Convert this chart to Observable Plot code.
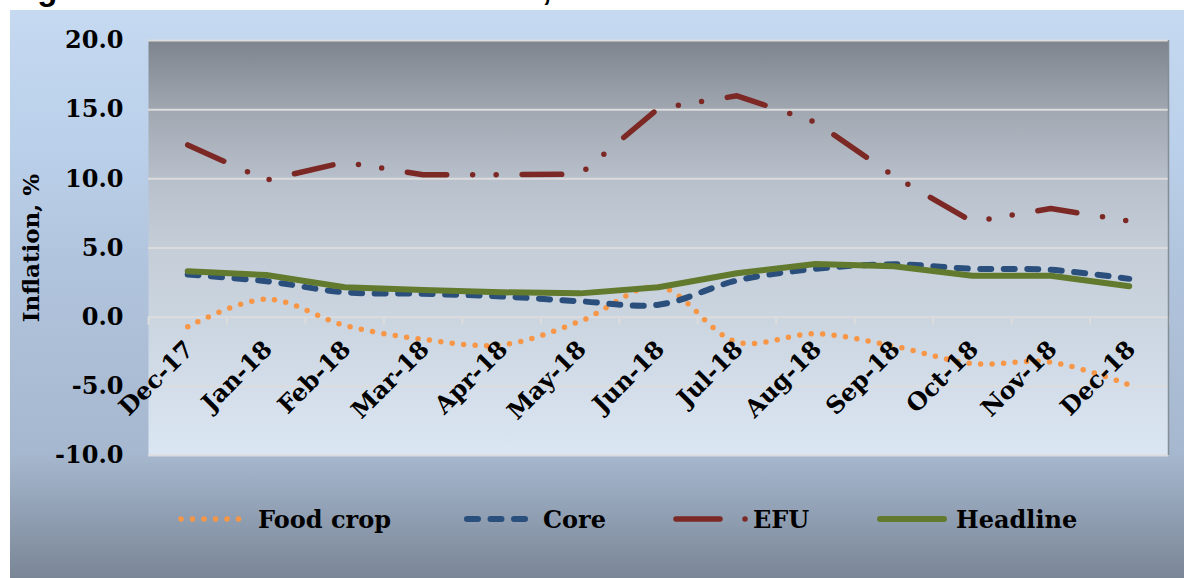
<!DOCTYPE html>
<html>
<head>
<meta charset="utf-8">
<script src="https://cdn.jsdelivr.net/npm/d3@7"></script>
<script src="https://cdn.jsdelivr.net/npm/@observablehq/plot@0.6"></script>
<style>
  html, body { margin: 0; padding: 0; background: #ffffff; width: 1184px; height: 578px; overflow: hidden; position: relative; }
  #title { position: absolute; left: 0; top: 0; display: block; }
  #chart {
    position: absolute; left: 10px; top: 10px; width: 1174px; height: 568px;
    background: linear-gradient(to bottom, #c5d9f1 0%, #bacfe9 25%, #b1c4dd 45%, #a6b8cf 78%, #7a8696 100%);
  }
  .item { position: absolute; top: 484px; height: 50px; display: flex; align-items: center;
    font-family: "DejaVu Serif", serif; font-weight: bold; font-size: 24px; color: #000; white-space: nowrap; }
  .item svg { display: block; }
  .item span { position: absolute; }
</style>
</head>
<body>
<svg id="title" width="1184" height="10"><text x="8" y="0" font-family="Liberation Sans, Arial, sans-serif" font-weight="bold" font-size="33">Figure 2.1: Annual inflation trends, Dec 2017 – Dec 2018</text></svg>
<div id="chart"></div>
<script>
// ---- Data ----
const months = ["Dec-17","Jan-18","Feb-18","Mar-18","Apr-18","May-18","Jun-18","Jul-18","Aug-18","Sep-18","Oct-18","Nov-18","Dec-18"];
const foodCrop = [-0.7, 1.3, -0.6, -1.6, -2.0, -0.3, 2.2, -1.8, -1.2, -2.1, -3.35, -3.25, -4.9];
const core     = [3.08, 2.6, 1.8, 1.69, 1.5, 1.15, 0.9, 2.65, 3.49, 3.82, 3.5, 3.42, 2.77];
const efu      = [12.45, 9.9, 11.2, 10.3, 10.3, 10.33, 15.1, 16.0, 14.1, 10.2, 6.9, 7.85, 6.95];
const headline = [3.32, 3.05, 2.16, 1.97, 1.8, 1.72, 2.16, 3.17, 3.85, 3.68, 3.0, 3.0, 2.24];
const yTicks = [-10, -5, 0, 5, 10, 15, 20];
const seriesNames = ["Food crop", "Core", "EFU", "Headline"];

const colors = {food: "#f79646", core: "#2b4f7c", efu: "#7c2824", head: "#617a2e"};
const styles = {
  food: {stroke: colors.food, strokeWidth: 5.5, strokeDasharray: "0 11.5", strokeLinecap: "round"},
  core: {stroke: colors.core, strokeWidth: 6, strokeDasharray: "11 12.5", strokeLinecap: "round"},
  efu:  {stroke: colors.efu,  strokeWidth: 5.5, strokeDasharray: "39.5 26 0 23.5 0 26", strokeLinecap: "round"},
  head: {stroke: colors.head, strokeWidth: 6, strokeLinecap: "round", strokeLinejoin: "round"}
};

const boundaries = d3.range(-0.5, months.length, 1);
const idx = (d, i) => i;

const plot = Plot.plot({
  width: 1174,
  height: 470,
  marginLeft: 138,
  marginRight: 16,
  marginTop: 30,
  marginBottom: 25,
  style: {background: "transparent", fontFamily: "DejaVu Serif, serif", fontWeight: "bold", color: "#000", overflow: "visible"},
  x: {type: "linear", domain: [-0.5, months.length - 0.5], axis: null},
  y: {domain: [-10, 20]},
  marks: [
    Plot.frame({fill: "url(#plotBg)", stroke: null}),
    Plot.ruleY(yTicks, {stroke: "#dcdcdc", strokeWidth: 2}),
    Plot.ruleX(boundaries, {y1: 0, y2: -0.58, stroke: "#dcdcdc", strokeWidth: 2}),
    Plot.ruleX([months.length - 0.5], {stroke: "#858d97", strokeWidth: 1.5}),
    Plot.line(foodCrop, {x: idx, y: d => d, curve: "catmull-rom", ...styles.food}),
    Plot.line(core, {x: idx, y: d => d, curve: "catmull-rom", ...styles.core}),
    Plot.line(efu, {x: idx, y: d => d, ...styles.efu}),
    Plot.line(headline, {x: idx, y: d => d, ...styles.head}),
    Plot.text(months, {x: idx, y: () => 0, text: d => d, rotate: -45, textAnchor: "end", dy: 28, dx: 2, fontSize: 24, fill: "#000"}),
    Plot.axisY({ticks: yTicks, tickSize: 0, tickPadding: 25, tickFormat: d => d.toFixed(1), fontSize: 24, label: null}),
    Plot.text(["Inflation, %"], {frameAnchor: "left", textAnchor: "middle", text: d => d, rotate: -90, dx: -117, fontSize: 23, fill: "#000"})
  ]
});

plot.insertAdjacentHTML("afterbegin", `<defs><linearGradient id="plotBg" x1="0" y1="0" x2="0" y2="1">
  <stop offset="0" stop-color="#7d848d"/>
  <stop offset="0.17" stop-color="#a1a8b2"/>
  <stop offset="0.34" stop-color="#b8c0cb"/>
  <stop offset="0.5" stop-color="#c4cdd8"/>
  <stop offset="0.67" stop-color="#cbd5e0"/>
  <stop offset="1" stop-color="#dbe6f3"/>
</linearGradient></defs>`);
const chart = document.getElementById("chart");
chart.appendChild(plot);
plot.style.position = "absolute"; plot.style.left = "0"; plot.style.top = "0";

// ---- Legend ----
const keys = ["food", "core", "efu", "head"];
const swatchLeft = [166, 452, 662, 865];   // relative to chart box
const textLeft = [248, 533, 743, 946];
seriesNames.forEach((name, i) => {
  const s = styles[keys[i]];
  const item = document.createElement("div");
  item.className = "item";
  item.style.left = swatchLeft[i] + "px";
  const w = textLeft[i] - swatchLeft[i];
  let x1 = 5, x2 = w - 12, dash = s.strokeDasharray || "";
  if (keys[i] === "efu") { x1 = 4; x2 = w - 2; dash = "44 25 0 100"; }
  item.innerHTML = `<svg width="${w}" height="14"><line x1="${x1}" y1="7" x2="${x2}" y2="7" stroke="${s.stroke}" stroke-width="${s.strokeWidth}" stroke-linecap="round" stroke-dasharray="${dash}"/></svg><span style="left:${w}px">${name}</span>`;
  chart.appendChild(item);
});
</script>
</body>
</html>
